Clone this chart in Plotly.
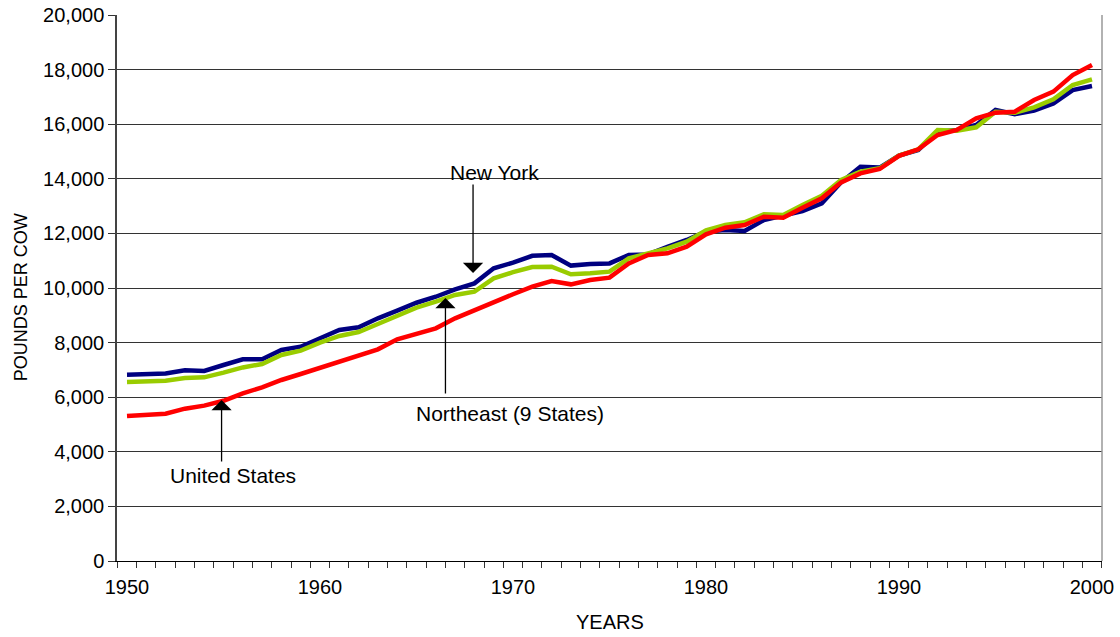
import plotly.graph_objects as go

years = list(range(1950, 2001))

new_york = [6820, 6825, 6870, 6990, 6960, 7180, 7390, 7390, 7730, 7850,
            8170, 8460, 8560, 8890, 9170, 9460, 9680, 9950, 10170, 10720,
            10930, 11180, 11210, 10820, 10880, 10900, 11210, 11230, 11510, 11760,
            12070, 12120, 12090, 12490, 12650, 12820, 13100, 13870, 14440, 14410,
            14850, 15055, 15730, 15790, 15970, 16520, 16370, 16500, 16760, 17250,
            17400]

northeast = [6557, 6580, 6600, 6700, 6727, 6900, 7090, 7216, 7546, 7705,
             8000, 8242, 8388, 8681, 8974, 9280, 9500, 9744, 9866, 10354,
             10580, 10769, 10781, 10500, 10537, 10598, 11086, 11270, 11453, 11697,
             12110, 12308, 12405, 12698, 12674, 13040, 13382, 13956, 14261, 14383,
             14850, 15079, 15788, 15763, 15885, 16459, 16422, 16618, 16911, 17436,
             17643]

united_states = [5311, 5335, 5396, 5580, 5690, 5870, 6141, 6361, 6630, 6850,
                 7080, 7326, 7546, 7753, 8120, 8340, 8523, 8889, 9194, 9500,
                 9770, 10049, 10256, 10134, 10293, 10378, 10903, 11209, 11270, 11514,
                 11966, 12210, 12308, 12613, 12576, 12943, 13284, 13870, 14200, 14359,
                 14840, 15079, 15604, 15788, 16215, 16422, 16459, 16886, 17191, 17802,
                 18168]

x_tick_vals = [1950, 1960, 1970, 1980, 1990, 2000]
x_tick_text = ["1950", "1960", "1970", "1980", "1990", "2000"]
y_tick_vals = list(range(0, 20001, 2000))

FONT = "Liberation Sans, Arial, sans-serif"

fig = go.Figure()
fig.add_trace(go.Scatter(x=years, y=new_york, mode="lines", name="New York",
                         line=dict(color="#000080", width=4.5)))
fig.add_trace(go.Scatter(x=years, y=northeast, mode="lines", name="Northeast (9 States)",
                         line=dict(color="#99CC00", width=4.5)))
fig.add_trace(go.Scatter(x=years, y=united_states, mode="lines", name="United States",
                         line=dict(color="#FF0000", width=4.5)))

fig.update_layout(
    template="none",
    width=1120, height=637,
    margin=dict(l=117, r=18, t=15, b=76, autoexpand=False),
    paper_bgcolor="white", plot_bgcolor="white",
    showlegend=False,
    font=dict(family=FONT, size=20, color="black"),
)

fig.update_xaxes(
    automargin=False,
    range=[1949.482, 2000.518],
    tickmode="array", tickvals=x_tick_vals, ticktext=x_tick_text,
    ticks="outside", ticklen=8, tickcolor="rgba(0,0,0,0)",
    tickfont=dict(family=FONT, size=20, color="black"),
    showgrid=False, zeroline=False,
    showline=True, linecolor="black", linewidth=1,
    minor=dict(tickmode="linear", tick0=1949.5, dtick=1, ticks="outside",
               ticklen=6, tickcolor="#333333", tickwidth=1, showgrid=False),
)

fig.update_yaxes(
    automargin=False,
    range=[0, 20000],
    tickmode="array", tickvals=y_tick_vals,
    tickformat=",d",
    ticks="outside", ticklen=7, tickcolor="#333333", tickwidth=1,
    tickfont=dict(family=FONT, size=20, color="black"),
    showgrid=True, gridcolor="#333333", gridwidth=1,
    zeroline=False,
    showline=True, linecolor="#444444", linewidth=1.5,
)

# right border of plot area
fig.add_shape(type="line", xref="paper", yref="paper", x0=1, x1=1, y0=0, y1=1,
              line=dict(color="#999999", width=1.5))

# axis titles
fig.add_annotation(text="YEARS", xref="paper", yref="paper", x=0.5, y=-0.112,
                   showarrow=False, yanchor="middle",
                   font=dict(family=FONT, size=20, color="black"))
fig.add_annotation(text="POUNDS PER COW", xref="paper", yref="paper", x=-0.098, y=0.484,
                   showarrow=False, textangle=-90, xanchor="center", yanchor="middle",
                   font=dict(family=FONT, size=18, color="black"))

# labels
labels = [
    ("New York", 1969.02, 14249),
    ("Northeast (9 States)", 1969.84, 5421),
    ("United States", 1955.49, 3114),
]
for txt, lx, ly in labels:
    fig.add_annotation(text=txt, x=lx, y=ly, xref="x", yref="y", showarrow=False,
                       xanchor="center", yanchor="middle",
                       font=dict(family=FONT, size=21, color="black"))

# arrows: (x, tip_y, tail_y)
arrows = [
    (1967.93, 10549, 13846),
    (1966.50, 9634, 6081),
    (1954.90, 5897, 3590),
]
for axx, tip, tail in arrows:
    fig.add_annotation(text="", x=axx, y=tip, ax=axx, ay=tail,
                       xref="x", yref="y", axref="x", ayref="y",
                       showarrow=True, arrowhead=1, arrowsize=2.6, arrowwidth=1.3,
                       arrowcolor="black", standoff=0, startstandoff=0)

fig.write_html("out.html", config={"displayModeBar": False},
               post_script="document.body.style.margin='0';")
